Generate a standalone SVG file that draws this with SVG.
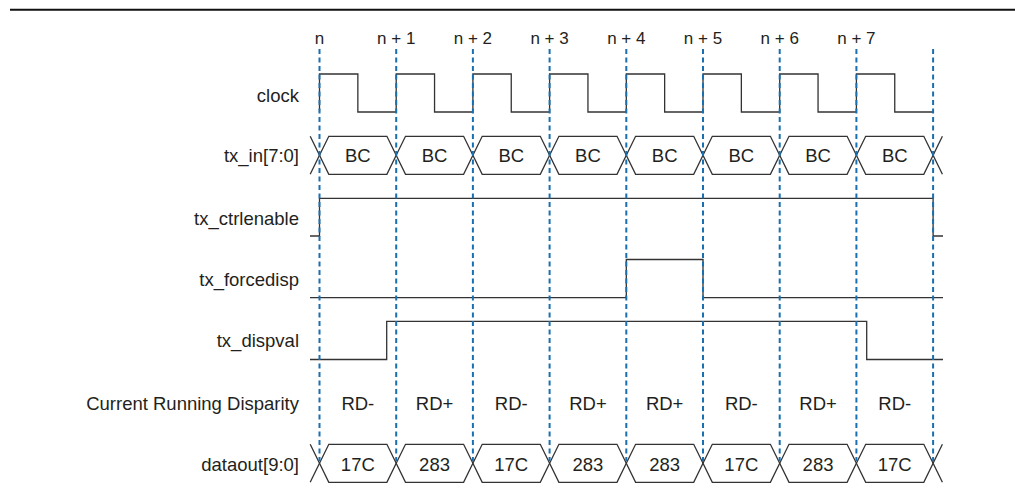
<svg xmlns="http://www.w3.org/2000/svg" width="1015" height="496" viewBox="0 0 1015 496">
<style>
text{font-family:"Liberation Sans",Arial,sans-serif;font-size:18.5px;fill:#231f20}
.lbl{text-anchor:end}
.c{text-anchor:middle}
.tick{font-size:17px;text-anchor:middle}
.sig{fill:none;stroke:#333;stroke-width:1.3}
.grid{stroke:#1a6fb0;stroke-width:2;stroke-dasharray:5 3.5}
</style>
<rect width="1015" height="496" fill="#fff"/>
<line x1="10" y1="9.8" x2="1015" y2="9.8" stroke="#111" stroke-width="2"/>
<g id="ticks">
<text class="tick" x="319.5" y="44">n</text>
<text class="tick" x="396.2" y="44">n + 1</text>
<text class="tick" x="472.9" y="44">n + 2</text>
<text class="tick" x="549.6" y="44">n + 3</text>
<text class="tick" x="626.3" y="44">n + 4</text>
<text class="tick" x="703" y="44">n + 5</text>
<text class="tick" x="779.7" y="44">n + 6</text>
<text class="tick" x="856.4" y="44">n + 7</text>
</g>
<g id="labels">
<text class="lbl" x="299" y="102">clock</text>
<text class="lbl" x="299" y="162">tx_in[7:0]</text>
<text class="lbl" x="299" y="225">tx_ctrlenable</text>
<text class="lbl" x="299" y="286">tx_forcedisp</text>
<text class="lbl" x="299" y="347">tx_dispval</text>
<text class="lbl" x="299" y="410">Current Running Disparity</text>
<text class="lbl" x="299" y="470.5">dataout[9:0]</text>
</g>
<g id="clock">
<path class="sig" d="M319.5 112V74H357.85V112H396.2V74H434.55V112H472.9V74H511.25V112H549.6V74H587.95V112H626.3V74H664.65V112H703V74H741.35V112H779.7V74H818.05V112H856.4V74H894.75V112H933.1"/>
</g>
<g id="tx_in">
<path class="sig" d="M310.2 136.3L319.5 155.3L310.2 174.3M942.4 136.3L933.1 155.3L942.4 174.3"/>
<path class="sig" d="M319.5 155.3L328.8 136.3H386.9L396.2 155.3L386.9 174.3H328.8Z"/>
<path class="sig" d="M396.2 155.3L405.5 136.3H463.6L472.9 155.3L463.6 174.3H405.5Z"/>
<path class="sig" d="M472.9 155.3L482.2 136.3H540.3L549.6 155.3L540.3 174.3H482.2Z"/>
<path class="sig" d="M549.6 155.3L558.9 136.3H617L626.3 155.3L617 174.3H558.9Z"/>
<path class="sig" d="M626.3 155.3L635.6 136.3H693.7L703 155.3L693.7 174.3H635.6Z"/>
<path class="sig" d="M703 155.3L712.3 136.3H770.4L779.7 155.3L770.4 174.3H712.3Z"/>
<path class="sig" d="M779.7 155.3L789 136.3H847.1L856.4 155.3L847.1 174.3H789Z"/>
<path class="sig" d="M856.4 155.3L865.7 136.3H923.8L933.1 155.3L923.8 174.3H865.7Z"/>
<text class="c" x="357.85" y="162">BC</text>
<text class="c" x="434.55" y="162">BC</text>
<text class="c" x="511.25" y="162">BC</text>
<text class="c" x="587.95" y="162">BC</text>
<text class="c" x="664.65" y="162">BC</text>
<text class="c" x="741.35" y="162">BC</text>
<text class="c" x="818.05" y="162">BC</text>
<text class="c" x="894.75" y="162">BC</text>
</g>
<g id="tx_ctrlenable">
<path class="sig" d="M310 236H319.5V198.3H933.1V236H943"/>
</g>
<g id="tx_forcedisp">
<path class="sig" d="M310 297.7H626.3V259.5H703V297.7H943"/>
</g>
<g id="tx_dispval">
<path class="sig" d="M310 359.5H386.7V321.3H866.7V359.5H943"/>
</g>
<g id="disparity">
<text class="c" x="357.85" y="410">RD-</text>
<text class="c" x="434.55" y="410">RD+</text>
<text class="c" x="511.25" y="410">RD-</text>
<text class="c" x="587.95" y="410">RD+</text>
<text class="c" x="664.65" y="410">RD+</text>
<text class="c" x="741.35" y="410">RD-</text>
<text class="c" x="818.05" y="410">RD+</text>
<text class="c" x="894.75" y="410">RD-</text>
</g>
<g id="dataout">
<path class="sig" d="M310.2 444.3L319.5 463.3L310.2 482.3M942.4 444.3L933.1 463.3L942.4 482.3"/>
<path class="sig" d="M319.5 463.3L328.8 444.3H386.9L396.2 463.3L386.9 482.3H328.8Z"/>
<path class="sig" d="M396.2 463.3L405.5 444.3H463.6L472.9 463.3L463.6 482.3H405.5Z"/>
<path class="sig" d="M472.9 463.3L482.2 444.3H540.3L549.6 463.3L540.3 482.3H482.2Z"/>
<path class="sig" d="M549.6 463.3L558.9 444.3H617L626.3 463.3L617 482.3H558.9Z"/>
<path class="sig" d="M626.3 463.3L635.6 444.3H693.7L703 463.3L693.7 482.3H635.6Z"/>
<path class="sig" d="M703 463.3L712.3 444.3H770.4L779.7 463.3L770.4 482.3H712.3Z"/>
<path class="sig" d="M779.7 463.3L789 444.3H847.1L856.4 463.3L847.1 482.3H789Z"/>
<path class="sig" d="M856.4 463.3L865.7 444.3H923.8L933.1 463.3L923.8 482.3H865.7Z"/>
<text class="c" x="357.85" y="470.5">17C</text>
<text class="c" x="434.55" y="470.5">283</text>
<text class="c" x="511.25" y="470.5">17C</text>
<text class="c" x="587.95" y="470.5">283</text>
<text class="c" x="664.65" y="470.5">283</text>
<text class="c" x="741.35" y="470.5">17C</text>
<text class="c" x="818.05" y="470.5">283</text>
<text class="c" x="894.75" y="470.5">17C</text>
</g>
<g id="connectors">
<line class="grid" x1="319.5" y1="49" x2="319.5" y2="461"/>
<line class="grid" x1="396.2" y1="49" x2="396.2" y2="461"/>
<line class="grid" x1="472.9" y1="49" x2="472.9" y2="461"/>
<line class="grid" x1="549.6" y1="49" x2="549.6" y2="461"/>
<line class="grid" x1="626.3" y1="49" x2="626.3" y2="461"/>
<line class="grid" x1="703" y1="49" x2="703" y2="461"/>
<line class="grid" x1="779.7" y1="49" x2="779.7" y2="461"/>
<line class="grid" x1="856.4" y1="49" x2="856.4" y2="461"/>
<line class="grid" x1="933.1" y1="49" x2="933.1" y2="461"/>
</g>
</svg>
